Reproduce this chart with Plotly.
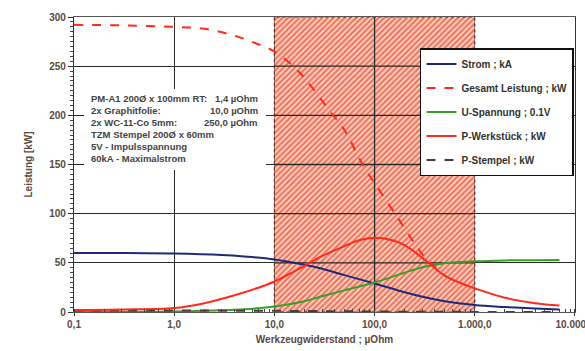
import plotly.graph_objects as go

# ---- data ----
x_tickvals = [0.1, 1, 10, 100, 1000, 10000]
x_ticktext = ["0,1", "1,0", "10,0", "100,0", "1.000,0", "10.000,0"]
y_tickvals = [0, 50, 100, 150, 200, 250, 300]

zone_r = [10, 1000]          # hatched resistance range (µOhm)
zone_p = [0, 300]            # full power range

strom_r = [0.1, 0.3, 1, 3, 5, 10, 20, 30, 50, 100, 200, 300, 500, 1000, 2000, 4000, 7000]
strom_v = [60, 60, 59.5, 58, 56.5, 53.5, 48, 44, 37.5, 29, 20, 15.5, 11, 7, 5, 3.5, 2.5]

gesamt_r = [0.1, 0.3, 1, 2, 4, 7, 10, 15, 20, 36, 50, 76, 100, 160, 250, 340, 500]
gesamt_v = [292, 291.5, 290, 288, 281, 272, 265, 251, 238, 204, 185, 150, 131, 100, 70, 52, 38]

u_r = [0.1, 0.3, 1, 3, 5, 10, 20, 30, 50, 100, 200, 300, 500, 1000, 2000, 7000]
u_v = [0.2, 0.3, 0.6, 1.8, 2.8, 5.5, 11, 16, 22, 30, 40, 45.5, 49.5, 51.5, 52.5, 53]

pw_r = [0.1, 0.3, 1, 2, 4, 8, 10, 20, 30, 50, 70, 100, 150, 200, 300, 500, 700, 1000, 2000, 4000, 7000]
pw_v = [2, 2.5, 4, 9, 17, 27, 31, 47, 57, 67, 73, 75.5, 73, 68, 55, 37, 30, 24, 14.5, 9, 6.5]

ps_r = [0.1, 1, 10, 100, 1000, 7000]
ps_v = [1.5, 1.5, 1.2, 0.5, 0.1, 0.05]

info_labels = ["PM-A1 200Ø x 100mm RT:", "2x Graphitfolie:", "2x WC-11-Co 5mm:",
               "TZM Stempel 200Ø x 60mm", "5V - Impulsspannung", "60kA - Maximalstrom"]
info_values = ["1,4 µOhm", "10,0 µOhm", "250,0 µOhm", "", "", ""]

FONT = "Liberation Sans, Arial, sans-serif"
TXT = "#5a4a42"
GRID = "#2a2a2a"

fig = go.Figure()

# hatched zone
fig.add_trace(go.Scatter(
    x=[zone_r[0], zone_r[1], zone_r[1], zone_r[0], zone_r[0]],
    y=[zone_p[0], zone_p[0], zone_p[1], zone_p[1], zone_p[0]],
    mode="lines", fill="toself",
    fillcolor="rgba(245,165,140,0.8)",
    fillpattern=dict(shape="/", fgcolor="#e65440", bgcolor="rgba(250,192,170,0.85)",
                     fgopacity=0.85, size=4, solidity=0.4),
    line=dict(color="#6b2a20", width=1.2, dash="dot"),
    showlegend=False, hoverinfo="skip"))

# grid lines re-drawn over the hatched zone
gx, gy = [], []
for yv in y_tickvals[1:-1]:
    gx += [zone_r[0], zone_r[1], None]
    gy += [yv, yv, None]
for xv in x_tickvals:
    if zone_r[0] < xv < zone_r[1]:
        gx += [xv, xv, None]
        gy += [zone_p[0], zone_p[1], None]
fig.add_trace(go.Scatter(x=gx, y=gy, mode="lines",
                         line=dict(color=GRID, width=1.3),
                         showlegend=False, hoverinfo="skip"))

fig.add_trace(go.Scatter(x=strom_r, y=strom_v, mode="lines", name="Strom ; kA",
                         line=dict(color="#1c2a7a", width=2, shape="spline"),
                         legendgroup="a", legendrank=1))
fig.add_trace(go.Scatter(x=u_r, y=u_v, mode="lines", name="U-Spannung ; 0.1V",
                         line=dict(color="#3a9e2a", width=2, shape="spline"),
                         legendgroup="c", legendrank=3))
fig.add_trace(go.Scatter(x=ps_r, y=ps_v, mode="lines", name="P-Stempel ; kW",
                         line=dict(color="#4a3a3a", width=2, dash="dash", shape="spline"),
                         legendgroup="e", legendrank=5))
fig.add_trace(go.Scatter(x=gesamt_r, y=gesamt_v, mode="lines", name="Gesamt Leistung ; kW",
                         line=dict(color="#ff2a1a", width=2, dash="dash", shape="spline"),
                         legendgroup="b", legendrank=2))
fig.add_trace(go.Scatter(x=pw_r, y=pw_v, mode="lines", name="P-Werkstück ; kW",
                         line=dict(color="#ff2a1a", width=2, shape="spline"),
                         legendgroup="d", legendrank=4))

# white box behind info text
fig.add_shape(type="rect", xref="paper", yref="paper",
              x0=(84 - 74) / 501, x1=(266 - 74) / 501,
              y0=(312 - 170) / 295, y1=(312 - 89) / 295,
              fillcolor="white", line=dict(width=0), layer="above")

for i, (lab, val) in enumerate(zip(info_labels, info_values)):
    ypix = 99 + i * 11.8
    yp = (312 - ypix) / 295
    fig.add_annotation(x=(89 - 74) / 501, y=yp, xref="paper", yref="paper",
                       text=lab, showarrow=False, xanchor="left", yanchor="middle",
                       font=dict(family=FONT, size=9.5, color="#444", weight="bold"))
    if val:
        fig.add_annotation(x=(260 - 74) / 501, y=yp, xref="paper", yref="paper",
                           text=val, showarrow=False, xanchor="right", yanchor="middle",
                           font=dict(family=FONT, size=9.5, color="#444", weight="bold"))

fig.update_layout(
    width=585, height=351,
    margin=dict(l=74, r=10, t=17, b=39, autoexpand=False),
    paper_bgcolor="white", plot_bgcolor="white",
    font=dict(family=FONT, size=10, color=TXT),
    legend=dict(x=0.998, y=(312 - 48) / 295, xanchor="right", yanchor="top",
                bgcolor="white", bordercolor="#111", borderwidth=1.5,
                traceorder="grouped", tracegroupgap=5,
                font=dict(family=FONT, size=10, color="#333", weight="bold"),
                itemwidth=30),
    showlegend=True,
)

fig.update_xaxes(type="log", range=[-1, 4.0005],
                 tickvals=x_tickvals, ticktext=x_ticktext,
                 ticklabeloverflow="allow", automargin=False,
                 showgrid=True, gridcolor=GRID, gridwidth=1.3,
                 showline=True, linecolor="#555", linewidth=1, mirror=True,
                 ticks="outside", ticklen=3, tickcolor="#333",
                 tickfont=dict(family=FONT, size=10, color=TXT, weight="bold"),
                 title=dict(text="Werkzeugwiderstand ; µOhm", standoff=6,
                            font=dict(family=FONT, size=10, color=TXT, weight="bold")),
                 minor=dict(ticks="inside", ticklen=3, tickcolor="#444", dtick="D1", showgrid=False),
                 zeroline=False)
fig.update_yaxes(range=[0, 300], tickvals=y_tickvals, automargin=False,
                 showgrid=True, gridcolor=GRID, gridwidth=1.3,
                 showline=True, linecolor="#333", linewidth=1.2, mirror=True,
                 ticks="outside", ticklen=5, tickcolor="#333",
                 tickfont=dict(family=FONT, size=10, color=TXT, weight="bold"),
                 title=dict(text="Leistung [kW]", standoff=14,
                            font=dict(family=FONT, size=10, color=TXT, weight="bold")),
                 minor=dict(ticks="outside", ticklen=3, tickcolor="#444", dtick=5, showgrid=False),
                 zeroline=False)

fig.write_html("out.html")
